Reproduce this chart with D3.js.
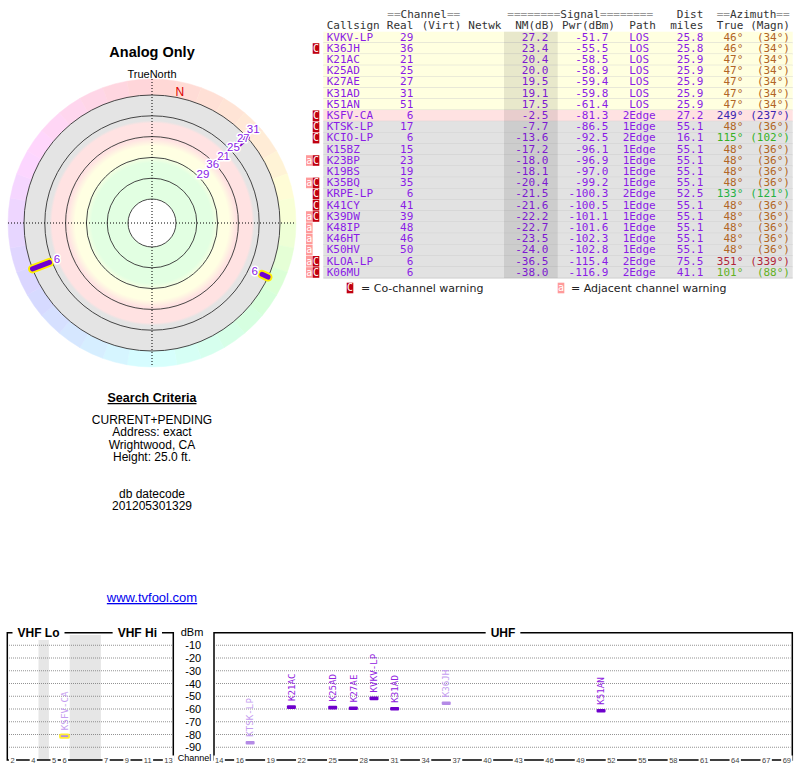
<!DOCTYPE html>
<html>
<head>
<meta charset="utf-8">
<script src="https://cdn.jsdelivr.net/npm/d3@7"></script>
<style>
  body { margin: 0; background: #fff; }
  svg { display: block; }
</style>
</head>
<body>
<div id="chart"></div>
<script>
// station table
const callsigns = ["KVKV-LP", "K36JH", "K21AC", "K25AD", "K27AE", "K31AD", "K51AN", "KSFV-CA", "KTSK-LP", "KCIO-LP", "K15BZ",
  "K23BP", "K19BS", "K35BQ", "KRPE-LP", "K41CY", "K39DW", "K48IP", "K46HT", "K50HV", "KLOA-LP", "K06MU"];
const realCh = [29, 36, 21, 25, 27, 31, 51, 6, 17, 6, 15, 23, 19, 35, 6, 41, 39, 48, 46, 50, 6, 6];
const nmDb = [27.2, 23.4, 20.4, 20.0, 19.5, 19.1, 17.5, -2.5, -7.7, -13.6, -17.2, -18.0, -18.1, -20.4, -21.5, -21.6, -22.2,
  -22.7, -23.5, -24.0, -36.5, -38.0];
const pwrDbm = [-51.7, -55.5, -58.5, -58.9, -59.4, -59.8, -61.4, -81.3, -86.5, -92.5, -96.1, -96.9, -97.0, -99.2, -100.3,
  -100.5, -101.1, -101.6, -102.3, -102.8, -115.4, -116.9];
const paths = ["LOS", "LOS", "LOS", "LOS", "LOS", "LOS", "LOS", "2Edge", "1Edge", "2Edge", "1Edge", "1Edge", "1Edge", "1Edge",
  "2Edge", "1Edge", "1Edge", "1Edge", "1Edge", "1Edge", "2Edge", "2Edge"];
const distMiles = [25.8, 25.8, 25.9, 25.9, 25.9, 25.9, 25.9, 27.2, 55.1, 16.1, 55.1, 55.1, 55.1, 55.1, 52.5, 55.1, 55.1,
  55.1, 55.1, 55.1, 75.5, 41.1];
const azTrue = [46, 46, 47, 47, 47, 47, 47, 249, 48, 115, 48, 48, 48, 48, 133, 48, 48, 48, 48, 48, 351, 101];
const azMagn = [34, 34, 34, 34, 34, 34, 34, 237, 36, 102, 36, 36, 36, 36, 121, 36, 36, 36, 36, 36, 339, 88];
const coWarn = [0, 1, 0, 0, 0, 0, 0, 1, 1, 1, 0, 1, 0, 1, 1, 1, 1, 0, 0, 0, 1, 1];
const adjWarn = [0, 0, 0, 0, 0, 0, 0, 0, 0, 0, 0, 1, 0, 1, 0, 0, 1, 1, 1, 1, 1, 1];

// polar rings (NM dB) and spectrum axes
const ringNm = [80, 60, 40, 20, 0, -20];
const dbmTicks = [-10, -20, -30, -40, -50, -60, -70, -80, -90];
const vhfSlots = ["2", "3", "4", "gapA", "5", "6", "gapB1", "gapB2", "gapB3", "7", "8", "9", "10", "11", "12", "13"];
const vhfTickLabels = ["2", "4", "5", "6", "7", "9", "11", "13"];
const uhfChannels = d3.range(14, 70);
const uhfTickLabels = [14, 16, 19, 22, 25, 28, 31, 34, 37, 40, 43, 46, 49, 52, 55, 58, 61, 64, 67, 69];

const criteriaLines = ["CURRENT+PENDING", "Address: exact", "Wrightwood, CA", "Height: 25.0 ft."];
const datecodeLines = ["db datecode", "201205301329"];

const stations = callsigns.map((c, i) => ({
  call: c, ch: realCh[i], nm: nmDb[i], pwr: pwrDbm[i], path: paths[i], dist: distMiles[i],
  az: azTrue[i], mag: azMagn[i], co: coWarn[i], adj: adjWarn[i], i: i
}));

const svg = d3.select("#chart").append("svg")
  .attr("width", 800).attr("height", 768)
  .style("font-family", "'Liberation Sans', Arial, sans-serif");
const defs = svg.append("defs");

const purple = "#8a1be6";
const hueScale = d3.scaleLinear().domain([0, 60, 120, 240, 360]).range([0, 35, 120, 240, 360]);
const azColor = (a) => d3.hsl(hueScale(a), 0.65, 0.42).formatHex();

// ---------- polar plot ----------
const cx = 152, cy = 223;
const rScale = d3.scaleLinear().domain([80, -20]).range([24, 128]);
const rOuter = rScale(-20);
const polar = svg.append("g").attr("transform", `translate(${cx},${cy})`);

svg.append("text").attr("x", cx).attr("y", 57).attr("text-anchor", "middle")
  .attr("font-size", "14.5px").attr("font-weight", "bold").text("Analog Only");
svg.append("text").attr("x", cx).attr("y", 78).attr("text-anchor", "middle")
  .attr("font-size", "11px").text("TrueNorth");

// colour wheel round the outside
const wedgeArc = d3.arc().innerRadius(rOuter).outerRadius(144);
polar.selectAll(".wedge")
  .data(d3.range(0, 360, 10))
  .join("path")
  .attr("class", "wedge")
  .attr("d", (a) => wedgeArc({ startAngle: (a * Math.PI) / 180, endAngle: ((a + 10) * Math.PI) / 180 }))
  .attr("fill", (a) => d3.hsl(hueScale(a + 5), 1, 0.92).formatHex())
  .attr("stroke", (a) => d3.hsl(hueScale(a + 5), 1, 0.92).formatHex())
  .attr("stroke-width", 0.5);

// signal bands
const grad = defs.append("radialGradient").attr("id", "bands")
  .attr("gradientUnits", "userSpaceOnUse").attr("cx", 0).attr("cy", 0).attr("r", rOuter);
[[0, "#e2ffe2"], [0.47, "#e2ffe2"], [0.53, "#ffffe2"], [0.6, "#ffffe2"], [0.66, "#ffe2e2"], [0.78, "#ffe2e2"],
  [0.8, "#e4e4e4"], [1, "#e4e4e4"]].forEach((s) => {
  grad.append("stop").attr("offset", s[0]).attr("stop-color", s[1]);
});
polar.append("circle").attr("r", rOuter).attr("fill", "url(#bands)");

polar.selectAll(".ring")
  .data(ringNm)
  .join("circle")
  .attr("class", "ring")
  .attr("r", (d) => rScale(d))
  .attr("fill", (d) => (d === 80 ? "#fff" : "none"))
  .attr("stroke", "#333")
  .attr("stroke-width", 0.9);

// dotted cross
polar.append("line").attr("x1", -144).attr("x2", 144).attr("stroke", "#000").attr("stroke-dasharray", "1,2");
polar.append("line").attr("y1", -144).attr("y2", 144).attr("stroke", "#000").attr("stroke-dasharray", "1,2");

const pt = (r, az) => [r * Math.sin((az * Math.PI) / 180), -r * Math.cos((az * Math.PI) / 180)];

// magnetic north marker
const decl = azTrue[0] - azMagn[0];
polar.append("text")
  .attr("x", pt(134, decl)[0]).attr("y", pt(134, decl)[1] + 4)
  .attr("text-anchor", "middle").attr("font-size", "12px").attr("fill", "#dd0000").text("N");

const shown = stations.filter((d) => d.nm >= -20).sort((a, b) => b.nm - a.nm);

// yellow halo for channel 6 stations
polar.selectAll(".halo")
  .data(shown.filter((d) => d.ch === 6))
  .join("line")
  .attr("class", "halo")
  .attr("x1", (d) => pt(rScale(d.nm), d.az)[0]).attr("y1", (d) => pt(rScale(d.nm), d.az)[1])
  .attr("x2", (d) => pt(rOuter, d.az)[0]).attr("y2", (d) => pt(rOuter, d.az)[1])
  .attr("stroke", "#ffee00").attr("stroke-width", 9).attr("stroke-linecap", "round");

polar.selectAll(".spoke")
  .data(shown)
  .join("line")
  .attr("class", "spoke")
  .attr("x1", (d) => pt(rScale(d.nm), d.az)[0]).attr("y1", (d) => pt(rScale(d.nm), d.az)[1])
  .attr("x2", (d) => pt(rOuter, d.az)[0]).attr("y2", (d) => pt(rOuter, d.az)[1])
  .attr("stroke", (d) => (d.nm < 0 ? "#7000d0" : "#3a3040"))
  .attr("stroke-width", (d) => (d.nm < 0 ? 5 : 1))
  .attr("stroke-linecap", (d) => (d.nm < 0 ? "round" : "butt"));

// channel labels, stacked outwards when they collide
const placed = [];
shown.forEach((d) => {
  let lr = rScale(d.nm) - 8;
  placed.forEach((p) => {
    if (Math.abs(p.az - d.az) < 15 && lr < p.lr + 13.5) lr = p.lr + 13.5;
  });
  placed.push({ az: d.az, lr: lr, ch: d.ch });
});
polar.selectAll(".plabel")
  .data(placed.filter((p) => p.lr <= 140))
  .join("text")
  .attr("class", "plabel")
  .attr("x", (p) => pt(p.lr, p.az)[0]).attr("y", (p) => pt(p.lr, p.az)[1] + 4)
  .attr("text-anchor", "middle")
  .attr("font-size", "11.5px")
  .attr("fill", purple)
  .attr("stroke", "#fff").attr("stroke-width", 3).attr("stroke-linejoin", "round")
  .attr("paint-order", "stroke")
  .text((p) => p.ch);

// ---------- search criteria ----------
const crit = svg.append("g").attr("text-anchor", "middle").attr("font-size", "12px").attr("fill", "#000");
crit.append("text").attr("x", cx).attr("y", 402).attr("font-weight", "bold").attr("font-size", "12.5px")
  .attr("text-decoration", "underline").text("Search Criteria");
crit.selectAll(".crit").data(criteriaLines).join("text").attr("class", "crit")
  .attr("x", cx).attr("y", (d, i) => 424 + i * 12.3).text((d) => d);
crit.selectAll(".dcode").data(datecodeLines).join("text").attr("class", "dcode")
  .attr("x", cx).attr("y", (d, i) => 498 + i * 12.3).text((d) => d);
crit.append("text").attr("x", cx).attr("y", 602).attr("font-size", "13px").attr("fill", "#0000ee")
  .attr("text-decoration", "underline").text("www.tvfool.com");

// ---------- table ----------
const tX0 = 323.3, tX1 = 792.7, rowTop = 31.7, rowH = 11.2;
const mono = "'DejaVu Sans Mono', monospace";
const table = svg.append("g").style("font-family", mono).attr("font-size", "11px");
const rowFill = (nm) => (nm >= 10 ? "#ffffe0" : nm >= -5 ? "#ffe2e2" : "#e2e2e2");

const hdr = table.append("g").attr("fill", "#333");
function eqText(x, y, parts) {
  const t = hdr.append("text").attr("x", x).attr("y", y);
  parts.forEach((p) => t.append("tspan").attr("fill", p[1] ? "#999" : "#333").text(p[0]));
}
eqText(387.3, 18, [["==", 1], ["Channel", 0], ["==", 1]]);
eqText(507.3, 18, [["========", 1], ["Signal", 0], ["========", 1]]);
eqText(716.7, 18, [["==", 1], ["Azimuth", 0], ["==", 1]]);
hdr.append("text").attr("x", 703.3).attr("y", 18).attr("text-anchor", "end").text("Dist");
[["Callsign", 326.7, "start"], ["Real", 413.3, "end"], ["(Virt)", 421.7, "start"], ["Netwk", 468.3, "start"],
  ["NM(dB)", 555, "end"], ["Pwr(dBm)", 615, "end"], ["Path", 629.3, "start"], ["miles", 703.3, "end"],
  ["True", 743.3, "end"], ["(Magn)", 790, "end"]].forEach((h) => {
  hdr.append("text").attr("x", h[1]).attr("y", 29).attr("text-anchor", h[2]).text(h[0]);
});

const rows = table.selectAll(".row").data(stations).join("g").attr("class", "row")
  .attr("transform", (d) => `translate(0,${rowTop + d.i * rowH})`);
rows.append("rect").attr("x", tX0).attr("width", tX1 - tX0).attr("height", rowH).attr("fill", (d) => rowFill(d.nm));
rows.append("line").attr("x1", tX0).attr("x2", tX1).attr("y1", rowH).attr("y2", rowH)
  .attr("stroke", "#c4c4c4").attr("stroke-width", 0.7);
table.append("rect").attr("x", 504).attr("y", rowTop).attr("width", 53.7).attr("height", stations.length * rowH)
  .attr("fill", "#000").attr("fill-opacity", 0.09);

const cells = [
  [(d) => d.call, 326.7, "start"],
  [(d) => d.ch, 413.3, "end"],
  [(d) => d.nm.toFixed(1), 548.3, "end"],
  [(d) => d.pwr.toFixed(1), 608.3, "end"],
  [(d) => d.path, 639.2, "middle"],
  [(d) => d.dist.toFixed(1), 703.3, "end"]
];
cells.forEach((c) => {
  rows.append("text").attr("x", c[1]).attr("y", 8.9).attr("text-anchor", c[2]).attr("fill", purple).text(c[0]);
});
rows.append("text").attr("x", 743.3).attr("y", 8.9).attr("text-anchor", "end")
  .attr("fill", (d) => azColor(d.az)).text((d) => d.az + "°");
rows.append("text").attr("x", 790).attr("y", 8.9).attr("text-anchor", "end")
  .attr("fill", (d) => azColor(d.az)).text((d) => "(" + d.mag + "°)");

function warnBox(g, x, y, kind) {
  g.append("rect").attr("x", x).attr("y", y).attr("width", 6.6).attr("height", 10.6)
    .attr("fill", kind === "C" ? "#c00010" : "#ff9a9a");
  g.append("text").attr("x", x + 3.3).attr("y", y + 8.6).attr("text-anchor", "middle")
    .attr("font-size", "10px").attr("fill", "#fff").style("font-family", mono).text(kind);
}
rows.each(function (d) {
  const g = d3.select(this);
  if (d.adj) warnBox(g, 306, 0.3, "a");
  if (d.co) warnBox(g, 312.7, 0.3, "C");
});

const legend = svg.append("g").attr("font-size", "11px").style("font-family", "'DejaVu Sans', sans-serif").attr("fill", "#222");
warnBox(legend, 346.7, 282.7, "C");
legend.append("text").attr("x", 361).attr("y", 292).text("= Co-channel warning");
warnBox(legend, 557.7, 282.7, "a");
legend.append("text").attr("x", 571).attr("y", 292).text("= Adjacent channel warning");

// ---------- spectrum ----------
const yDbm = d3.scaleLinear().domain([0, -100]).range([632.5, 760]);
const xVhf = d3.scaleBand().domain(vhfSlots).range([7.3, 173.7]);
const xUhf = d3.scaleBand().domain(uhfChannels).range([214, 792]);
const spec = svg.append("g");

spec.append("rect").attr("x", xVhf("gapA")).attr("y", 635).attr("width", xVhf.bandwidth())
  .attr("height", 760 - 635).attr("fill", "#e6e6e6");
spec.append("rect").attr("x", xVhf("gapB1")).attr("y", 635)
  .attr("width", xVhf("gapB3") + xVhf.bandwidth() - xVhf("gapB1"))
  .attr("height", 760 - 635).attr("fill", "#e6e6e6");

[[9, 172], [216, 790.5]].forEach((r) => {
  spec.selectAll(null).data(dbmTicks).join("line")
    .attr("x1", r[0]).attr("x2", r[1]).attr("y1", (d) => yDbm(d)).attr("y2", (d) => yDbm(d))
    .attr("stroke", "#777").attr("stroke-width", 0.8).attr("stroke-dasharray", "1,1");
});

spec.append("path").attr("d", `M7.3,760V632.7H173.3V760Z`).attr("fill", "none")
  .attr("stroke", "#000").attr("stroke-width", 1.5);
spec.append("path").attr("d", `M214,760V632.7H792.3V760Z`).attr("fill", "none")
  .attr("stroke", "#000").attr("stroke-width", 1.5);

function bgText(g, x, y, txt, size, opts) {
  const rect = g.append("rect").attr("fill", "#fff");
  const t = g.append("text").attr("x", x).attr("y", y).attr("text-anchor", "middle")
    .attr("font-size", size).text(txt);
  if (opts && opts.bold) t.attr("font-weight", "bold");
  if (opts && opts.fill) t.attr("fill", opts.fill);
  const b = t.node().getBBox();
  const pad = (opts && opts.pad) || 1;
  rect.attr("x", b.x - pad).attr("y", b.y).attr("width", b.width + 2 * pad).attr("height", b.height);
}

const vLoMid = (xVhf("2") + xVhf("6") + xVhf.bandwidth()) / 2;
const vHiMid = (xVhf("7") + xVhf("13") + xVhf.bandwidth()) / 2;
bgText(spec, vLoMid, 637, "VHF Lo", "12px", { bold: true, pad: 5 });
bgText(spec, vHiMid, 637, "VHF Hi", "12px", { bold: true, pad: 5 });
bgText(spec, (214 + 792) / 2, 637, "UHF", "12px", { bold: true, pad: 5 });

spec.append("text").attr("x", 192).attr("y", 636).attr("text-anchor", "middle").attr("font-size", "11px").text("dBm");
spec.selectAll(".dbl").data(dbmTicks).join("text").attr("class", "dbl")
  .attr("x", 193.3).attr("y", (d) => yDbm(d) + 4).attr("text-anchor", "middle").attr("font-size", "11px").text((d) => d);
bgText(spec, 194.5, 760.5, "Channel", "9px", { pad: 1 });

vhfTickLabels.forEach((c) => bgText(spec, xVhf(c) + xVhf.bandwidth() / 2, 762.5, c, "7.5px", { fill: "#444", pad: 1.5 }));
uhfTickLabels.forEach((c) => bgText(spec, xUhf(c) + xUhf.bandwidth() / 2, 762.5, String(c), "7.5px", { fill: "#444", pad: 1.5 }));

const specShown = stations.filter((d) => d.nm > -10);
const chX = (d) => (d.ch <= 13 ? xVhf(String(d.ch)) + xVhf.bandwidth() / 2 : xUhf(d.ch) + xUhf.bandwidth() / 2);

spec.selectAll(".bar")
  .data(specShown)
  .join("rect")
  .attr("class", "bar")
  .attr("x", (d) => chX(d) - 4.5)
  .attr("y", (d) => yDbm(d.pwr) - 1.8)
  .attr("width", 9).attr("height", 3.6).attr("rx", 1)
  .attr("fill", (d) => (d.co ? "#b48ae6" : "#6e00cc"))
  .attr("stroke", (d) => (d.ch === 6 ? "#ffee33" : "none"))
  .attr("stroke-width", 1.8);

spec.selectAll(".blabel")
  .data(specShown)
  .join("text")
  .attr("class", "blabel")
  .attr("transform", (d) => `translate(${chX(d) + 3.2},${yDbm(d.pwr) - 6}) rotate(-90)`)
  .attr("font-size", "9.2px")
  .style("font-family", mono)
  .attr("fill", (d) => (d.co ? "#c49cf0" : "#9020e0"))
  .text((d) => d.call);
</script>
</body>
</html>
